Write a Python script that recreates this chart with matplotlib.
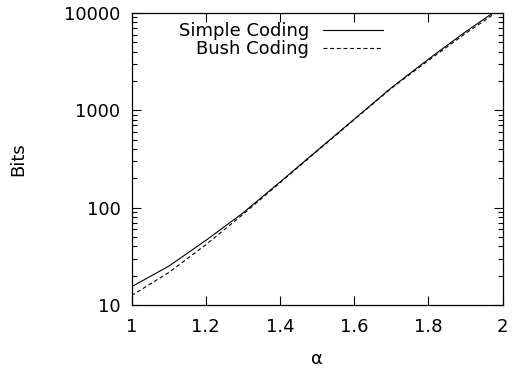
import numpy as np
import matplotlib.pyplot as plt
from matplotlib.ticker import LogLocator, FixedLocator, NullFormatter

plt.rcParams['font.family'] = ['DejaVu Sans']
plt.rcParams['font.size'] = 13

# values
alpha = [1.0, 1.1, 1.2, 1.3, 1.4, 1.5, 1.6, 1.7, 1.8, 1.9, 2.0]
simple_bits = [15.4, 25.0, 46.0, 88.0, 183.0, 385.0, 810.0, 1700.0, 3350.0, 6400.0, 11700.0]
bush_bits = [12.5, 21.5, 41.5, 85.0, 180.0, 380.0, 800.0, 1680.0, 3250.0, 6150.0, 11200.0]
x_ticks = [1.0, 1.2, 1.4, 1.6, 1.8, 2.0]
x_labels = ['1', '1.2', '1.4', '1.6', '1.8', '2']
y_ticks = [10, 100, 1000, 10000]

fig = plt.figure(figsize=(5.3, 3.73), dpi=100)
ax = fig.add_axes([131.5 / 530, 1 - 305 / 373, 371 / 530, 292 / 373])

ax.plot(alpha, simple_bits, color='black', lw=0.8, label='Simple Coding')
ax.plot(alpha, bush_bits, color='black', lw=0.8, dashes=(3.5, 2.5), label='Bush Coding')

ax.set_yscale('log')
ax.set_xlim(1, 2)
ax.set_ylim(10, 10000)

ax.xaxis.set_major_locator(FixedLocator(x_ticks))
ax.set_xticklabels(x_labels)
ax.yaxis.set_major_locator(FixedLocator(y_ticks))
ax.set_yticklabels([str(v) for v in y_ticks])
ax.yaxis.set_minor_locator(LogLocator(base=10, subs=np.arange(2, 10)))
ax.yaxis.set_minor_formatter(NullFormatter())
ax.xaxis.set_minor_locator(FixedLocator([]))

ax.tick_params(axis='both', which='major', direction='in', length=6.5, width=0.8,
               top=True, right=True)
ax.tick_params(axis='y', which='minor', direction='in', length=3.6, width=0.8,
               left=True, right=True)
ax.tick_params(axis='x', which='major', pad=9)
ax.tick_params(axis='y', which='major', pad=8)
for s in ax.spines.values():
    s.set_linewidth(0.9)

ax.set_xlabel('α')
ax.xaxis.set_label_coords(0.5, -0.155)
ax.set_ylabel('Bits')
ax.yaxis.set_label_coords(-0.282, 0.5)

ax.legend(loc='upper right', bbox_to_anchor=((383 - 131.5) / 371, 0.968),
          markerfirst=False, frameon=False, borderpad=0, borderaxespad=0,
          handlelength=3.3, handletextpad=0.8, labelspacing=0.0)

fig.savefig('out.png', dpi=100)
